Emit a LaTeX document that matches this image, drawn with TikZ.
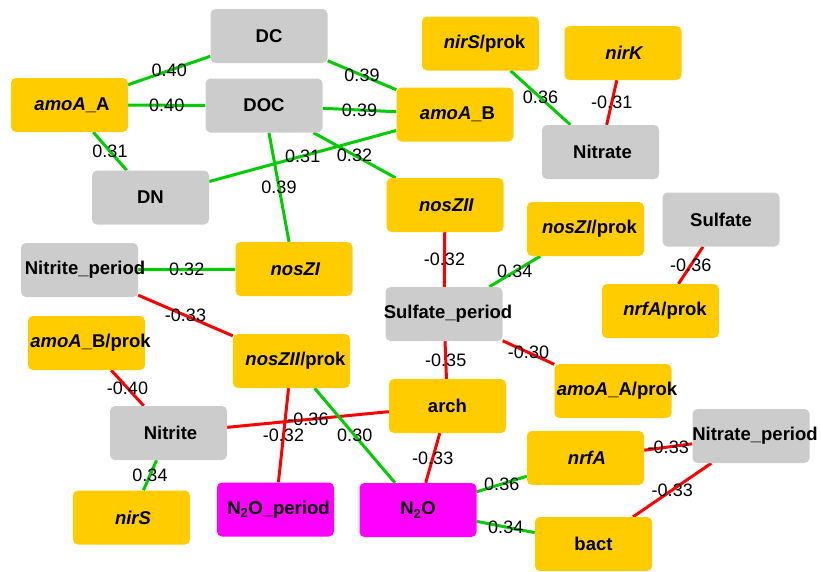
\documentclass[tikz,border=0pt]{standalone}
\usepackage{fontspec}
\setmainfont{Liberation Sans}
\usetikzlibrary{calc,backgrounds}
\definecolor{geneyellow}{HTML}{FFCC00}
\definecolor{envgray}{HTML}{CCCCCC}
\definecolor{ntomag}{HTML}{FF00FF}
\definecolor{posgreen}{HTML}{00CC00}
\definecolor{negred}{HTML}{FF0000}
% correlation link: style, from, to, weight (weight sits halfway between centres);
% the line goes behind the boxes
\newcommand\linkw[4]{%
  \begin{pgfonlayer}{background}\draw[#1] (#2) -- (#3);\end{pgfonlayer}
  \node[wt] at ($(#2)!0.5!(#3)$) {#4};}
% box text of zero width, so the box keeps its size; optional push to the right
\newcommand\bt[2][0pt]{\makebox[0pt]{\hspace*{#1}#2}}
\begin{document}
\begin{tikzpicture}[x=1pt,y=-1pt,
  box/.style={rounded corners=5pt, minimum width=117pt, minimum height=54pt,
    inner sep=0pt, font=\fontsize{18.5}{20}\selectfont\bfseries},
  gene/.style={box, fill=geneyellow},
  env/.style={box, fill=envgray},
  nto/.style={box, fill=ntomag},
  poslink/.style={draw=posgreen, line width=3pt},
  neglink/.style={draw=negred, line width=3pt},
  wt/.style={font=\fontsize{18}{20}\selectfont, inner sep=0pt}]

\useasboundingbox (0,0) rectangle (821,571);

% nodes
\node[env]  (DC)     at (269,36)    {\bt{DC}};
\node[gene] (amoAA)  at (69.5,105)  {\bt[5pt]{\textit{amoA}\_A}};
\node[env]  (DOC)    at (264,105.5) {\bt{DOC}};
\node[env]  (DN)     at (150.5,197.5) {\bt{DN}};
\node[gene] (amoAB)  at (455,114.5) {\bt[5pt]{\textit{amoA}\_B}};
\node[gene] (nirSp)  at (480.5,43.5) {\bt[8pt]{\textit{nirS}/prok}};
\node[gene] (nirK)   at (623,53)    {\bt[3pt]{\textit{nirK}}};
\node[env]  (Nitrate) at (600.5,152) {\bt[4pt]{Nitrate}};
\node[gene] (nosZII) at (445,205)   {\bt[3pt]{\textit{nosZII}}};
\node[gene] (nosZIp) at (585.5,229) {\bt[8pt]{\textit{nosZI}/prok}};
\node[env]  (Sulfate) at (721,219.5) {\bt{Sulfate}};
\node[env]  (NitP)   at (79.5,270)  {\bt[11pt]{Nitrite\_period}};
\node[gene] (nosZI)  at (294,269)   {\bt[3pt]{\textit{nosZI}}};
\node[env]  (SulP)   at (444,314)   {\bt[8pt]{Sulfate\_period}};
\node[gene] (nrfAp)  at (660.5,311) {\bt[9pt]{\textit{nrfA}/prok}};
\node[gene] (amoABp) at (86.5,343)  {\bt[8pt]{\textit{amoA}\_B/prok}};
\node[gene] (nosZIIp) at (291.5,361) {\bt[8pt]{\textit{nosZII}/prok}};
\node[gene] (arch)   at (447.5,406) {\bt{arch}};
\node[gene] (amoAAp) at (613,391)   {\bt[8pt]{\textit{amoA}\_A/prok}};
\node[env]  (Nitrite) at (168.5,433) {\bt[4pt]{Nitrite}};
\node[gene] (nrfA)   at (585.5,458) {\bt[3pt]{\textit{nrfA}}};
\node[env]  (NatP)   at (751,436)   {\bt[8pt]{Nitrate\_period}};
\node[gene] (nirS)   at (131.5,517.5) {\bt[3pt]{\textit{nirS}}};
\node[nto]  (N2OP)   at (275.5,509.5) {\bt[6pt]{N\textsubscript{2}O\_period}};
\node[nto]  (N2O)    at (418,510)   {\bt{N\textsubscript{2}O}};
\node[gene] (bact)   at (593.5,544) {\bt{bact}};

% correlations
\linkw{poslink}{amoAA}{DC}{0.40}
\linkw{poslink}{amoAA}{DOC}{0.40}
\linkw{poslink}{amoAA}{DN}{0.31}
\linkw{poslink}{DC}{amoAB}{0.39}
\linkw{poslink}{DOC}{amoAB}{0.39}
\linkw{poslink}{DN}{amoAB}{0.31}
\linkw{poslink}{DOC}{nosZII}{0.32}
\linkw{poslink}{DOC}{nosZI}{0.39}
\linkw{poslink}{nirSp}{Nitrate}{0.36}
\linkw{neglink}{nirK}{Nitrate}{-0.31}
\linkw{neglink}{nosZII}{SulP}{-0.32}
\linkw{poslink}{nosZIp}{SulP}{0.34}
\linkw{neglink}{Sulfate}{nrfAp}{-0.36}
\linkw{poslink}{NitP}{nosZI}{0.32}
\linkw{neglink}{NitP}{nosZIIp}{-0.33}
\linkw{neglink}{amoABp}{Nitrite}{-0.40}
\linkw{neglink}{SulP}{arch}{-0.35}
\linkw{neglink}{SulP}{amoAAp}{-0.30}
\linkw{neglink}{Nitrite}{arch}{-0.36}
\linkw{neglink}{nosZIIp}{N2OP}{-0.32}
\linkw{poslink}{nosZIIp}{N2O}{0.30}
\linkw{poslink}{Nitrite}{nirS}{0.34}
\linkw{neglink}{arch}{N2O}{-0.33}
\linkw{poslink}{N2O}{nrfA}{0.36}
\linkw{poslink}{N2O}{bact}{0.34}
\linkw{neglink}{nrfA}{NatP}{-0.33}
\linkw{neglink}{NatP}{bact}{-0.33}
\end{tikzpicture}
\end{document}
